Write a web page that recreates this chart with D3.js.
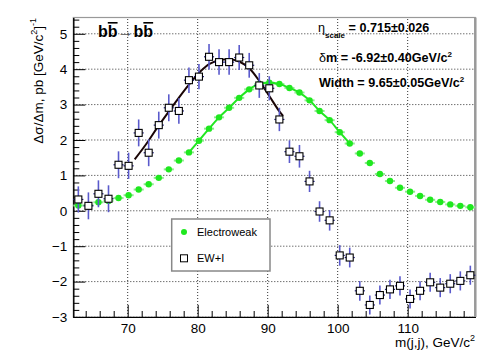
<!DOCTYPE html>
<html>
<head>
<meta charset="utf-8">
<script src="https://cdn.jsdelivr.net/npm/d3@7"></script>
<style>
  body { margin: 0; background: #fff; }
  svg { display: block; font-family: "Liberation Sans", Arial, sans-serif; }
</style>
</head>
<body>
<svg id="chart" width="491" height="353"></svg>
<script>
// bin centres of m(j,j), GeV/c^2
const binCenters = [62.95, 64.39, 65.82, 67.26, 68.69, 70.13, 71.57, 73.00, 74.44, 75.87,
    77.31, 78.75, 80.18, 81.62, 83.05, 84.49, 85.93, 87.36, 88.80, 90.23,
    91.67, 93.11, 94.54, 95.98, 97.41, 98.85, 100.29, 101.72, 103.16, 104.59,
    106.03, 107.47, 108.90, 110.34, 111.77, 113.21, 114.65, 116.08, 117.52, 118.95];
const halfBin = 0.72;

const ewValues = [0.15, 0.16, 0.24, 0.28, 0.36, 0.44, 0.60, 0.75, 0.93, 1.17,
    1.42, 1.65, 1.98, 2.32, 2.64, 2.91, 3.19, 3.43, 3.58, 3.62,
    3.58, 3.47, 3.34, 3.12, 2.82, 2.56, 2.22, 1.90, 1.62, 1.35,
    1.04, 0.84, 0.65, 0.54, 0.42, 0.31, 0.25, 0.18, 0.14, 0.10];

const ewiValues = [0.32, 0.14, 0.48, 0.34, 1.30, 1.27, 2.20, 1.64, 2.42, 2.91,
    2.82, 3.69, 3.79, 4.35, 4.20, 4.20, 4.33, 4.11, 3.54, 3.46,
    2.58, 1.67, 1.54, 0.83, -0.02, -0.27, -1.26, -1.32, -2.26, -2.66,
    -2.38, -2.22, -2.12, -2.49, -2.26, -2.02, -2.17, -2.06, -1.98, -1.82];
const ewiErrors = [0.37, 0.38, 0.38, 0.38, 0.38, 0.37, 0.38, 0.38, 0.38, 0.38,
    0.36, 0.36, 0.36, 0.36, 0.36, 0.36, 0.35, 0.35, 0.35, 0.34,
    0.33, 0.32, 0.32, 0.30, 0.29, 0.29, 0.29, 0.28, 0.28, 0.27,
    0.27, 0.27, 0.27, 0.27, 0.27, 0.27, 0.27, 0.27, 0.27, 0.27];

// fitted curve to EW+I
const fitX = [71.0, 72.7, 74.3, 76.0, 77.4, 78.9, 80.3, 81.7, 83.2, 84.6, 86.0, 87.4, 88.9, 90.3, 91.7, 92.2];
const fitY = [1.45, 1.90, 2.37, 2.84, 3.22, 3.60, 3.92, 4.15, 4.26, 4.28, 4.21, 4.02, 3.64, 3.22, 2.80, 2.68];

// green line drawn over this index range of the Electroweak points
const ewLineFrom = 11, ewLineTo = 27;

const xMajor = [70, 80, 90, 100, 110];
const xMinor = [64, 66, 68, 72, 74, 76, 78, 82, 84, 86, 88, 92, 94, 96, 98, 102, 104, 106, 108, 112, 114, 116, 118];
const yMajor = [-3, -2, -1, 0, 1, 2, 3, 4, 5];

const X0 = 73.3, X1 = 475.3, Y0 = 317, Y1 = 17.5;
const svg = d3.select('#chart');
svg.append('rect').attr('width', 491).attr('height', 353).attr('fill', '#fff');

const x = d3.scaleLinear().domain([62.23, 119.66]).range([X0, X1]);
const y = d3.scaleLinear().domain([-3, 5.46]).range([Y0, Y1]);

// grid
const grid = svg.append('g').attr('stroke', '#333').attr('stroke-width', 1).attr('stroke-dasharray', '1,2');
xMajor.forEach(v => grid.append('line').attr('x1', x(v)).attr('x2', x(v)).attr('y1', Y0).attr('y2', Y1));
yMajor.forEach(v => grid.append('line').attr('x1', X0).attr('x2', X1).attr('y1', y(v)).attr('y2', y(v)));

// frame
svg.append('rect').attr('x', X0).attr('y', Y1).attr('width', X1 - X0).attr('height', Y0 - Y1)
    .attr('fill', 'none').attr('stroke', '#999').attr('stroke-width', 1.2);
svg.append('line').attr('x1', X1).attr('x2', X1).attr('y1', Y1).attr('y2', Y0)
    .attr('stroke', '#999').attr('stroke-width', 2.5);

// axes
const yAxis = d3.axisLeft(y).tickValues(yMajor).tickSizeInner(-12).tickSizeOuter(0).tickPadding(6)
    .tickFormat(d => d < 0 ? '\u2212' + Math.abs(d) : d);
const yMinorTicks = d3.range(-3, 5.41, 0.2).map(v => +v.toFixed(1)).filter(v => Math.abs(v - Math.round(v)) > 0.01);
const yAxisMinor = d3.axisLeft(y).tickValues(yMinorTicks).tickSizeInner(-6).tickSizeOuter(0).tickFormat('');
const xAxis = d3.axisBottom(x).tickValues(xMajor).tickSizeInner(-12).tickSizeOuter(0).tickPadding(6);
const xAxisMinor = d3.axisBottom(x).tickValues(xMinor).tickSizeInner(-6).tickSizeOuter(0).tickFormat('');

function styleAxis(g) {
    g.select('.domain').attr('stroke', '#000');
    g.selectAll('.tick line').attr('stroke', '#000');
    g.selectAll('.tick text').attr('fill', '#000').attr('font-size', 13.5)
        .attr('font-family', '"Liberation Sans", Arial, sans-serif');
}
svg.append('g').attr('transform', `translate(${X0},0)`).call(yAxisMinor).call(styleAxis);
svg.append('g').attr('transform', `translate(${X0},0)`).call(yAxis).call(styleAxis);
svg.append('g').attr('transform', `translate(0,${Y0})`).call(xAxisMinor).call(styleAxis);
svg.append('g').attr('transform', `translate(0,${Y0})`).call(xAxis).call(styleAxis);

// Electroweak series
const ew = binCenters.map((c, i) => ({ x: c, y: ewValues[i] }));
svg.append('g').attr('stroke', '#8eea8e').attr('stroke-width', 2)
    .selectAll('line').data(ew).join('line')
    .attr('x1', d => x(d.x - halfBin)).attr('x2', d => x(d.x + halfBin))
    .attr('y1', d => y(d.y)).attr('y2', d => y(d.y));
svg.append('path').datum(ew.slice(ewLineFrom, ewLineTo + 1))
    .attr('fill', 'none').attr('stroke', '#22e622').attr('stroke-width', 2)
    .attr('d', d3.line().x(d => x(d.x)).y(d => y(d.y)).curve(d3.curveMonotoneX));
svg.append('g').attr('fill', '#1fe81f')
    .selectAll('circle').data(ew).join('circle')
    .attr('cx', d => x(d.x)).attr('cy', d => y(d.y)).attr('r', 3.2);

// fit curve
svg.append('path').datum(fitX.map((v, i) => ({ x: v, y: fitY[i] })))
    .attr('fill', 'none').attr('stroke', '#1a0505').attr('stroke-width', 2)
    .attr('d', d3.line().x(d => x(d.x)).y(d => y(d.y)).curve(d3.curveCatmullRom));

// EW+I series
const ewi = binCenters.map((c, i) => ({ x: c, y: ewiValues[i], e: ewiErrors[i] }));
const errs = svg.append('g');
errs.selectAll('line.v').data(ewi).join('line').attr('class', 'v')
    .attr('x1', d => x(d.x)).attr('x2', d => x(d.x))
    .attr('y1', d => y(d.y - d.e)).attr('y2', d => y(d.y + d.e))
    .attr('stroke', '#5a5acc').attr('stroke-width', 1.6);
errs.selectAll('line.h').data(ewi).join('line').attr('class', 'h')
    .attr('x1', d => x(d.x - halfBin)).attr('x2', d => x(d.x + halfBin))
    .attr('y1', d => y(d.y)).attr('y2', d => y(d.y))
    .attr('stroke', '#1c1c80').attr('stroke-width', 1.2);
svg.append('g').selectAll('rect').data(ewi).join('rect')
    .attr('x', d => x(d.x) - 3.5).attr('y', d => y(d.y) - 3.5)
    .attr('width', 7).attr('height', 7)
    .attr('fill', '#fff').attr('stroke', '#000').attr('stroke-width', 1.1);

// legend
const lg = svg.append('g');
lg.append('rect').attr('x', 171.7).attr('y', 219).attr('width', 98.3).attr('height', 52)
    .attr('fill', '#fff').attr('stroke', '#888').attr('stroke-width', 1.5);
lg.append('circle').attr('cx', 184).attr('cy', 232).attr('r', 3).attr('fill', '#1fe81f');
lg.append('rect').attr('x', 180.5).attr('y', 254.8).attr('width', 7).attr('height', 7)
    .attr('fill', '#fff').attr('stroke', '#000').attr('stroke-width', 1);
lg.append('text').attr('x', 197).attr('y', 236).attr('font-size', 11).text('Electroweak');
lg.append('text').attr('x', 197).attr('y', 262).attr('font-size', 11).text('EW+I');

// title b bbar -> b bbar
const title = svg.append('text').attr('x', 98).attr('y', 37)
    .attr('font-size', 16).attr('font-weight', 'bold');
title.append('tspan').text('b');
title.append('tspan').attr('text-decoration', 'overline').text('b');
title.append('tspan').attr('font-weight', 'normal').attr('fill', '#555').text('\u2192');
title.append('tspan').text('b');
title.append('tspan').attr('text-decoration', 'overline').text('b');

// fit results
const info = svg.append('g').attr('font-size', 12.6).attr('font-weight', 'bold');
const t1 = info.append('text').attr('x', 318).attr('y', 32);
t1.append('tspan').attr('font-weight', 'normal').text('\u03b7');
t1.append('tspan').attr('font-size', 8).attr('dy', 6).text('scale');
t1.append('tspan').attr('dy', -6).text(' = 0.715\u00b10.026');
const t2 = info.append('text').attr('x', 319).attr('y', 62);
t2.append('tspan').attr('font-weight', 'normal').text('\u03b4');
t2.append('tspan').text('m = -6.92\u00b10.40GeV/c');
t2.append('tspan').attr('font-size', 8).attr('dy', -5).text('2');
const t3 = info.append('text').attr('x', 319).attr('y', 87);
t3.append('tspan').text('Width = 9.65\u00b10.05GeV/c');
t3.append('tspan').attr('font-size', 8).attr('dy', -5).text('2');

// axis titles
const xt = svg.append('text').attr('x', 475).attr('y', 347).attr('text-anchor', 'end').attr('font-size', 13.5);
xt.append('tspan').text('m(j,j), GeV/c');
xt.append('tspan').attr('font-size', 9).attr('dy', -6).text('2');

const yt = svg.append('text').attr('transform', 'translate(43,18) rotate(-90)')
    .attr('text-anchor', 'end').attr('font-size', 13.5);
yt.append('tspan').text('\u0394\u03c3/\u0394m, pb [GeV/c');
yt.append('tspan').attr('font-size', 9).attr('dy', -6).text('2');
yt.append('tspan').attr('dy', 6).text(']');
yt.append('tspan').attr('font-size', 9).attr('dy', -7).text('-1');
</script>
</body>
</html>
